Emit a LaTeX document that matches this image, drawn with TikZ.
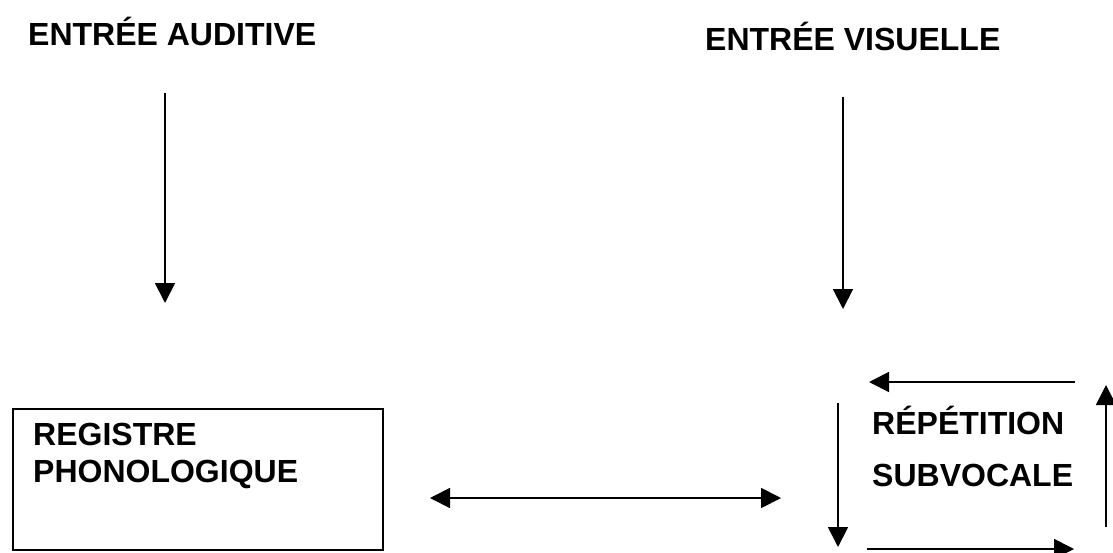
\documentclass[tikz,border=0pt]{standalone}
\usepackage{fontspec}
\setmainfont{Liberation Sans}
\usetikzlibrary{arrows.meta}
\tikzset{
  lbl/.style={anchor=base west, inner sep=0pt, font=\fontsize{32}{37}\selectfont\bfseries},
  arr/.style={line width=1.8pt, -{Triangle[width=20pt,length=20pt]}},
  darr/.style={line width=1.8pt, {Triangle[width=20pt,length=20pt]}-{Triangle[width=20pt,length=20pt]}},
  boxst/.style={draw, line width=1.8pt}
}
\begin{document}
\begin{tikzpicture}[x=1pt,y=-1pt]
\useasboundingbox (0,0) rectangle (1113,552);
% labels
\node[lbl] (aud) at (28,45) {ENTRÉE AUDITIVE};
\node[lbl] (vis) at (705,50) {ENTRÉE VISUELLE};
% box
\node[boxst, minimum width=370pt, minimum height=141pt, inner sep=0pt, anchor=north west] (reg) at (12,408) {};
\node[lbl] (reg1) at (33,445) {REGISTRE};
\node[lbl] (reg2) at (33,482) {PHONOLOGIQUE};
\node[lbl] (rep1) at (872,434) {RÉPÉTITION};
\node[lbl] (rep2) at (872,486) {SUBVOCALE};
% coordinates
\coordinate (a1) at (165,93);
\coordinate (a2) at (165,303);
\coordinate (v1) at (843,97);
\coordinate (v2) at (843,309);
\coordinate (d1) at (430,498);
\coordinate (d2) at (781,498);
\coordinate (t1) at (1075,382);
\coordinate (t2) at (869,382);
\coordinate (l1) at (838,403);
\coordinate (l2) at (838,547);
\coordinate (b1) at (867,549);
\coordinate (b2) at (1074,549);
\coordinate (r1) at (1106,527);
\coordinate (r2) at (1106,385);
% arrows
\draw[arr] (a1) -- (a2);
\draw[arr] (v1) -- (v2);
\draw[darr] (d1) -- (d2);
\draw[arr] (t1) -- (t2);
\draw[arr] (l1) -- (l2);
\draw[arr] (b1) -- (b2);
\draw[arr] (r1) -- (r2);
\end{tikzpicture}
\end{document}
